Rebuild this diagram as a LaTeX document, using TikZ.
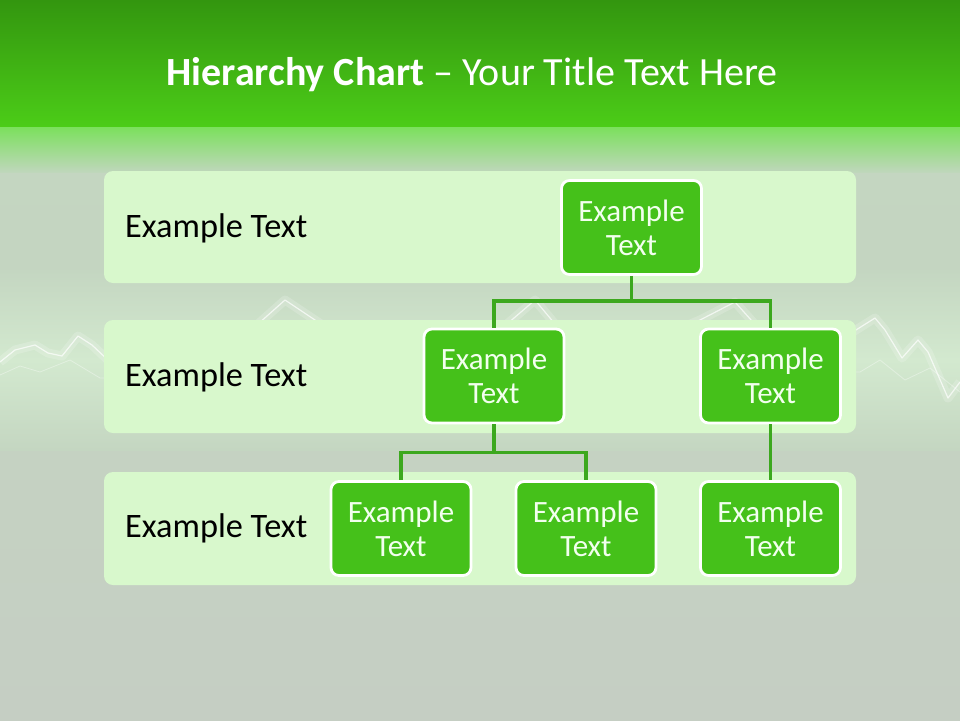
\documentclass[tikz,border=0pt]{standalone}
\usepackage{fontspec}
\setmainfont{Carlito}
\begin{document}
\begin{tikzpicture}[x=1pt,y=-1pt,
  rowband/.style={fill=rowfill, rounded corners=9pt, draw=none},
  gbox/.style={fill=boxgreen, draw=white, line width=2.8pt, rounded corners=8pt,
    minimum width=140pt, minimum height=94pt, inner sep=0pt, align=center,
    text=boxtext, font=\fontsize{31}{34}\selectfont},
  rowlabel/.style={anchor=west, inner sep=0pt, text=black, font=\fontsize{34.3}{38}\selectfont},
  conn/.style={draw=linegreen, line width=3.2pt},
  wave/.style={draw=white, line width=1.2pt, line join=round, opacity=0.7},
  waveglow/.style={draw=white, line width=9pt, line join=round, opacity=0.18}
]
\definecolor{bgbot}{HTML}{C5CEC3}
\definecolor{bgmid}{HTML}{C4D6C1}
\definecolor{glow}{HTML}{D3E9CF}
\definecolor{topdark}{HTML}{33960F}
\definecolor{topgreen}{HTML}{4CCD18}
\definecolor{fadegreen}{HTML}{7CE05E}
\definecolor{fadeend}{HTML}{BFD7BB}
\definecolor{rowfill}{HTML}{D8F8CC}
\definecolor{boxgreen}{HTML}{45C11A}
\definecolor{boxtext}{HTML}{F2FFEE}
\definecolor{linegreen}{HTML}{3CA81E}
\useasboundingbox (0,0) rectangle (960,720);
% background
\shade[top color=bgmid, bottom color=bgbot] (0,170) rectangle (960,720);
\shade[top color=bgmid, bottom color=bgmid, middle color=glow] (0,270) rectangle (960,450);
\shade[top color=topdark, bottom color=topgreen] (0,0) rectangle (960,128);
\shade[top color=fadegreen, bottom color=fadeend] (0,127.5) rectangle (960,172);
% lightning wave
\draw[waveglow] (0,362) -- (15,350) -- (35,345) -- (48,353) -- (62,356) -- (78,336) -- (92,345) -- (110,362)
  -- (150,345) -- (200,330) -- (240,340) -- (285,300) -- (330,330) -- (420,350) -- (500,330) -- (535,300)
  -- (560,330) -- (640,345) -- (700,320) -- (735,302) -- (760,330) -- (840,340) -- (875,318) -- (885,330)
  -- (902,358) -- (918,340) -- (928,352) -- (948,398) -- (960,382);
\draw[wave] (0,362) -- (15,350) -- (35,345) -- (48,353) -- (62,356) -- (78,336) -- (92,345) -- (110,362)
  -- (150,345) -- (200,330) -- (240,340) -- (285,300) -- (330,330) -- (420,350) -- (500,330) -- (535,300)
  -- (560,330) -- (640,345) -- (700,320) -- (735,302) -- (760,330) -- (840,340) -- (875,318) -- (885,330)
  -- (902,358) -- (918,340) -- (928,352) -- (948,398) -- (960,382);
\draw[wave, opacity=0.35, line width=0.8pt] (0,375) -- (20,366) -- (40,372) -- (70,360) -- (100,378)
  -- (860,372) -- (880,360) -- (905,380) -- (930,368) -- (960,392);
% title
\node[text=white, font=\fontsize{40}{46}\selectfont] (title) at (472,75)
  {\textbf{Hierarchy Chart} – Your Title Text Here};
% row bands
\path[rowband] (104,171) rectangle (856,283);
\path[rowband] (104,320) rectangle (856,433);
\path[rowband] (104,472) rectangle (856,585);
\node[rowlabel] (l1) at (125,228) {Example Text};
\node[rowlabel] (l2) at (125,377) {Example Text};
\node[rowlabel] (l3) at (125,528) {Example Text};
% boxes
\node[gbox] (top) at (631.5,227.5) {Example\\Text};
\node[gbox] (m1) at (494,376) {Example\\Text};
\node[gbox] (m2) at (770.5,376) {Example\\Text};
\node[gbox] (b1) at (401,528.5) {Example\\Text};
\node[gbox] (b2) at (586,528.5) {Example\\Text};
\node[gbox] (b3) at (770.5,528.5) {Example\\Text};
% connectors
\draw[conn] (top.south) -- ++(0,25) -| (m1.north);
\draw[conn] (top.south) ++(0,25) -| (m2.north);
\draw[conn] (m1.south) -- ++(0,28) -| (b1.north);
\draw[conn] (m1.south) ++(0,28) -| (b2.north);
\draw[conn] (m2.south) -- (b3.north);
\end{tikzpicture}
\end{document}
